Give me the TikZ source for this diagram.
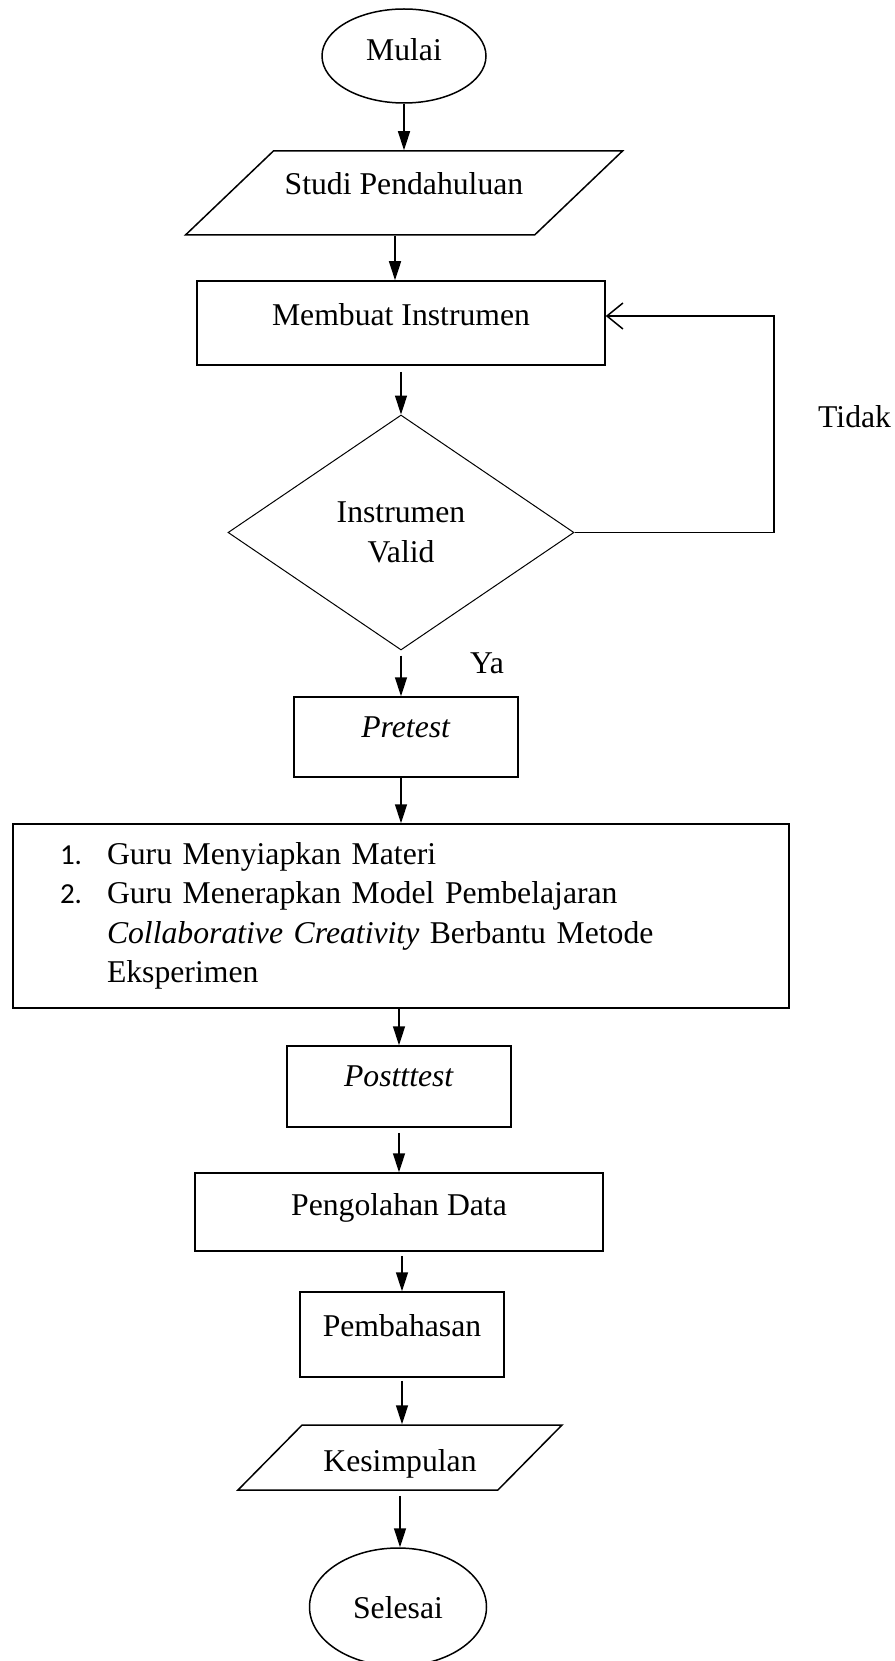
\documentclass[tikz,border=0pt]{standalone}
\usepackage{fontspec}
\setmainfont{Liberation Serif}
\newfontfamily\numfont{Carlito}
\usetikzlibrary{arrows.meta,shapes.geometric}

\newcommand\nomor[1]{\makebox[47pt][l]{\numfont\fontsize{29pt}{39.3pt}\selectfont #1}}

\tikzset{
  base/.style={line width=1.5pt, inner sep=0pt, text depth=18pt, text height=24pt},
  term/.style={base, draw, ellipse},
  io/.style 2 args={base, draw, trapezium, trapezium left angle=#1,
    trapezium right angle=#2, trapezium stretches body},
  proc/.style={base, draw, rectangle},
  cond/.style={draw, diamond, line width=1pt, inner sep=0pt, align=center},
  arr/.style={->, line width=1.5pt},
  lbl/.style={inner sep=0pt, anchor=base west},
}

\begin{document}
\begin{tikzpicture}[x=1pt,y=-1pt,>={Triangle[length=19pt,width=12pt]},
    font=\fontsize{31.7pt}{39.3pt}\selectfont]
  \useasboundingbox (0,0) rectangle (894,1661);
  \node[term, minimum width=164pt, minimum height=94pt, text height=28pt] (mulai) at (404,56) {Mulai};
  \node[io={43.7}{136.3}, minimum width=437pt, text height=44pt, text depth=40pt] (studi) at (404,193) {Studi Pendahuluan};
  \node[proc, minimum width=408pt, minimum height=84pt, text height=22pt] (membuat) at (401,323) {Membuat Instrumen};
  \node[cond, minimum width=346pt, minimum height=235pt] (valid) at (401,532.5) {Instrumen\\Valid};
  \node[proc, minimum width=224pt, minimum height=80pt, text height=19pt] (pretest) at (406,737) {\textit{Pretest}};
  \node[draw, line width=1.5pt, rectangle, minimum height=184pt, text width=682pt,
        inner xsep=47pt, inner ysep=0pt, align=left] (proses) at (401,916)
    {\nomor{1.}Guru Menyiapkan Materi\\
     \nomor{2.}Guru Menerapkan Model Pembelajaran\\
     \hspace*{47pt}\textit{Collaborative Creativity} Berbantu Metode\\
     \hspace*{47pt}Eksperimen};
  \node[proc, minimum width=224pt, minimum height=81pt, text height=18pt] (posttest) at (399,1086.5) {\textit{Postttest}};
  \node[proc, minimum width=408pt, minimum height=78pt] (olah) at (399,1212) {Pengolahan Data};
  \node[proc, minimum width=204pt, minimum height=85pt, text height=21pt] (bahas) at (402,1334.5) {Pembahasan};
  \node[io={45.4}{134.6}, minimum width=324pt, text height=46pt, text depth=19pt] (simpul) at (400,1457.5) {Kesimpulan};
  \node[term, minimum width=177pt, minimum height=118pt, text height=40pt] (selesai) at (398,1607) {Selesai};

  \node[lbl] (tidak) at (818,427) {Tidak};
  \node[lbl] (ya) at (470,673) {Ya};
  \coordinate (balik) at (774,316);

  \draw[arr] (mulai) -- (mulai |- studi.north);
  \draw[arr] ([xshift=-9pt]studi.south) -- ([xshift=-9pt]studi.south |- membuat.north);
  \draw[arr, shorten <=6pt] (membuat.south) -- (valid.north);
  \draw[arr, shorten <=5pt] (valid.south) -- (valid.south |- pretest.north);
  \draw[arr] (pretest.south -| proses.north) -- (proses.north);
  \draw[arr] (proses.south -| posttest.north) -- (posttest.north);
  \draw[arr, shorten <=5pt] (posttest.south) -- (posttest.south |- olah.north);
  \draw[arr, shorten <=4pt] (olah.south -| bahas.north) -- (bahas.north);
  \draw[arr, shorten <=3pt] (bahas.south) -- (bahas.south |- simpul.north);
  \draw[arr, shorten <=5pt] (simpul.south) -- (simpul.south |- selesai.north);
  \draw[line width=1.5pt, -{Straight Barb[length=16pt,width=26pt]}]
    (valid.east) -| (balik) -- (balik -| membuat.east);
\end{tikzpicture}
\end{document}
